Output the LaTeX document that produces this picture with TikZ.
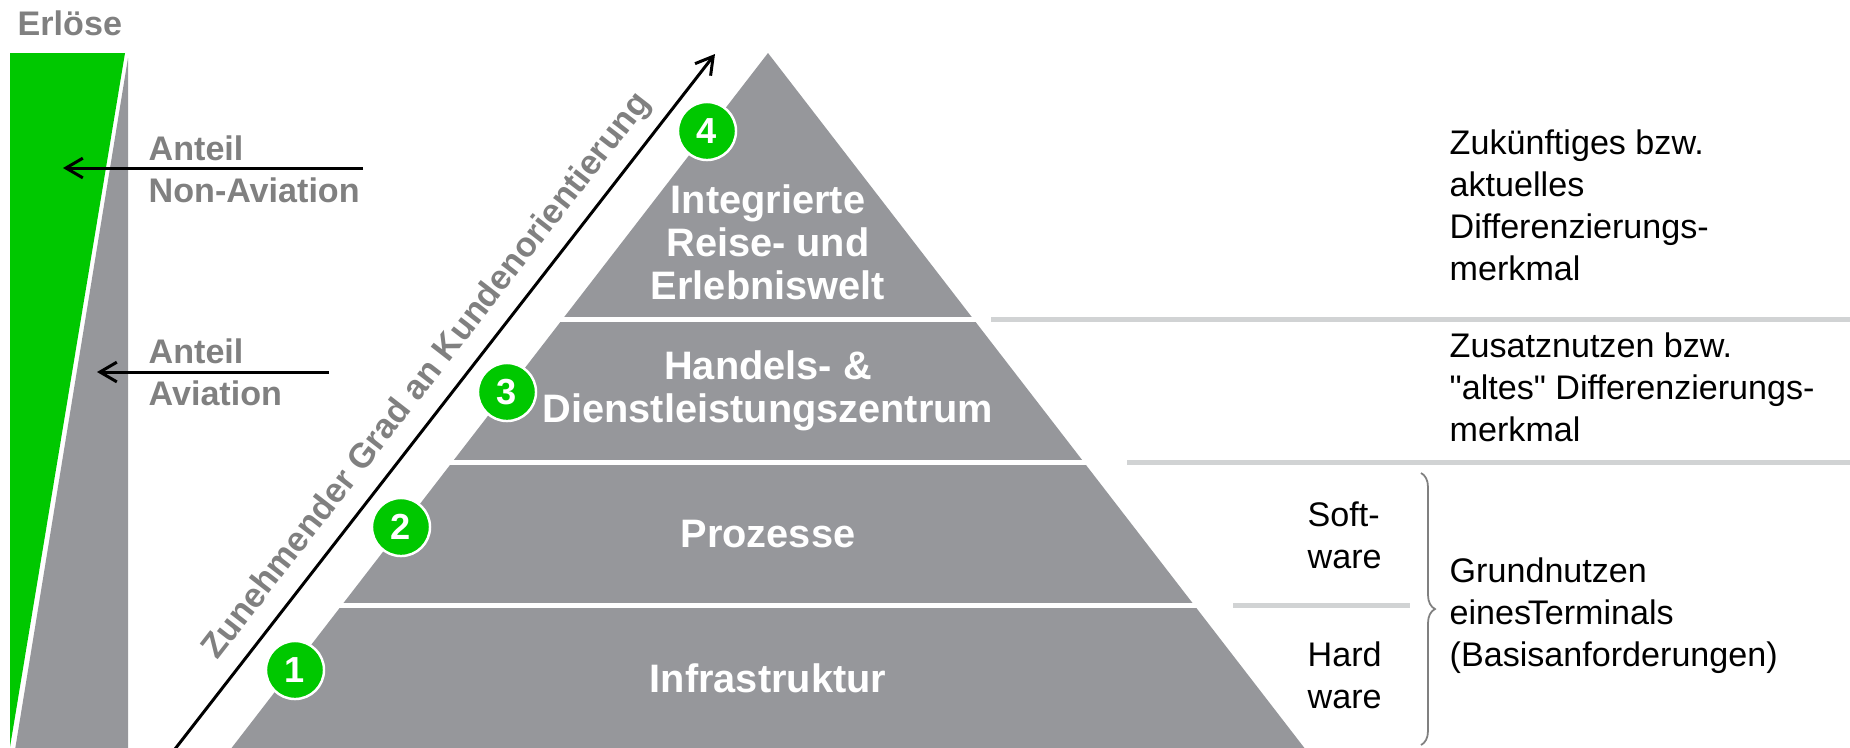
\documentclass[tikz,border=0pt]{standalone}
\usepackage{fontspec}
\setmainfont{Liberation Sans}
\usepackage{xcolor}
\usetikzlibrary{arrows.meta}
\usetikzlibrary{decorations.pathreplacing}

\definecolor{lgreen}{RGB}{0,200,0}
\definecolor{pyrgrey}{RGB}{150,151,155}
\definecolor{txtgrey}{RGB}{128,128,128}
\definecolor{linegrey}{RGB}{209,211,212}

\tikzset{font={\fontsize{9.7pt}{11.9pt}\selectfont}}
\tikzset{
  side/.style={align=left,anchor=west,inner sep=0pt},
  lbl/.style={text=txtgrey,font={\fontsize{9.7pt}{11.9pt}\selectfont\bfseries},align=left,anchor=west,inner sep=0pt},
  layer/.style={text=white,font={\fontsize{11.3pt}{12.2pt}\selectfont\bfseries},align=center,inner sep=0pt},
  num/.style={circle,fill=lgreen,draw=white,line width=0.7pt,minimum size=0.58cm,inner sep=0pt,text=white,font={\fontsize{10.3pt}{12pt}\selectfont\bfseries}},
  ptr/.style={-{Straight Barb[length=4.8pt,width=5.6pt]},line width=0.85pt},
  sep/.style={white,line width=0.05cm},
  rule/.style={linegrey,line width=0.05cm},
  brace/.style={decorate,decoration={brace,amplitude=0.14cm},txtgrey,line width=0.5pt}
}

\begin{document}
\begin{tikzpicture}[x=0.01cm,y=-0.01cm]
\useasboundingbox (0,0) rectangle (1850,747);

%revenue bar
\node[lbl,anchor=base west] at (17,35) (erloese) {Erlöse};
\fill[lgreen] (10,53) -- (125,53) -- (10,747) -- cycle;
\fill[pyrgrey] (128,58) -- (128,750) -- (15,750) -- cycle;

%shares
\node[lbl] at (148,169) (nonav) {Anteil\\Non-Aviation};
\node[lbl] at (148,372) (av) {Anteil\\Aviation};
\coordinate (nonav-from) at (363,168);
\coordinate (nonav-to) at (63,168);
\coordinate (av-from) at (329,372);
\coordinate (av-to) at (97,372);
\draw[ptr] (nonav-from) -- (nonav-to);
\draw[ptr] (av-from) -- (av-to);

%pyramid
\fill[pyrgrey] (768,53) -- (1306,750) -- (230,750) -- cycle;
\draw[sep] (555,319) -- (985,319);
\draw[sep] (445,462) -- (1095,462);
\draw[sep] (335,605) -- (1205,605);

%rules to the right
\draw[rule] (991,319) -- (1850,319);
\draw[rule] (1127,462) -- (1850,462);
\draw[rule] (1233,605) -- (1410,605);

%layer labels
\node[layer] at (768,242) (l4) {Integrierte\\Reise- und\\Erlebniswelt};
\node[layer] at (768,391) (l3) {Handels- \&\\Dienstleistungszentrum};
\node[layer,anchor=base] at (768,547) (l2) {Prozesse};
\node[layer,anchor=base] at (768,692) (l1) {Infrastruktur};

%numbers
\node[num] at (707,131) (n4) {4};
\node[num] at (507,392) (n3) {3};
\node[num] at (401,527) (n2) {2};
\node[num] at (295,670) (n1) {1};

%customer orientation
\coordinate (grad-from) at (175,749);
\coordinate (grad-to) at (715,54);
\draw[ptr] (grad-from) -- (grad-to) node[pos=0.51,above,sloped,text=txtgrey,font={\fontsize{9.8pt}{12pt}\selectfont\bfseries}] (grad) {Zunehmender Grad an Kundenorientierung};

%descriptions
\node[side] at (1449,205.5) (d4) {Zukünftiges bzw.\\aktuelles\\Differenzierungs-\\merkmal};
\node[side] at (1449,387.5) (d3) {Zusatznutzen bzw.\\\textquotedbl altes\textquotedbl\ Differenzierungs-\\merkmal};
\node[side] at (1307,535.5) (soft) {Soft-\\ware};
\node[side] at (1307,675.5) (hard) {Hard\\ware};
\draw[brace] (1421,473) -- (1421,745);
\node[side] at (1449,616) (d12) {Grundnutzen\\eines\kern-0.1em Terminals\\(Basisanforderungen)};

\end{tikzpicture}
\end{document}
